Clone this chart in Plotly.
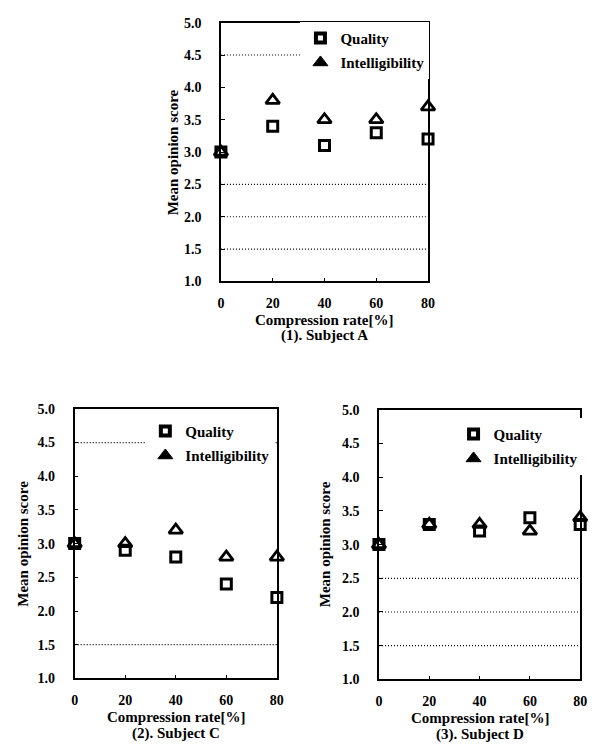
import plotly.graph_objects as go

# ---------------- data ----------------
rates = [0, 20, 40, 60, 80]

quality_A = [3.0, 3.4, 3.1, 3.3, 3.2]
intel_A = [3.0, 3.8, 3.5, 3.5, 3.7]

quality_C = [3.0, 2.9, 2.8, 2.4, 2.2]
intel_C = [3.0, 3.0, 3.2, 2.8, 2.8]

quality_D = [3.0, 3.3, 3.2, 3.4, 3.3]
intel_D = [3.0, 3.3, 3.3, 3.2, 3.4]

y_ticks = [1.0, 1.5, 2.0, 2.5, 3.0, 3.5, 4.0, 4.5, 5.0]
x_ticks = rates

grid_A = [1.5, 2.0, 2.5, 4.5]
grid_C = [1.5, 4.5]
grid_D = [1.5, 2.0, 2.5]

captions = ["(1). Subject A", "(2). Subject C", "(3). Subject D"]
series_names = ["Quality", "Intelligibility"]
x_title = "Compression rate[%]"
y_title = "Mean opinion score"

# ---------------- layout geometry ----------------
W, H = 597, 755
FONT = "Liberation Serif"

panels = [
    dict(sfx="", q=quality_A, i=intel_A, grid=grid_A, cap=captions[0],
         xd=[221 / W, 432 / W], yd=[1 - 280 / H, 1 - 16 / H],
         ytx=-0.23, xty=-0.148, cy=-0.21,
         leg=dict(x=302 / W, y=1 - 15 / H), lname="legend"),
    dict(sfx="2", q=quality_C, i=intel_C, grid=grid_C, cap=captions[1],
         xd=[72 / W, 278 / W], yd=[1 - 685 / H, 1 - 410 / H],
         ytx=-0.255, xty=-0.143, cy=-0.205,
         leg=dict(x=144 / W, y=1 - 416 / H), lname="legend2"),
    dict(sfx="3", q=quality_D, i=intel_D, grid=grid_D, cap=captions[2],
         xd=[382 / W, 587 / W], yd=[1 - 686 / H, 1 - 411 / H],
         ytx=-0.27, xty=-0.143, cy=-0.205,
         leg=dict(x=458 / W, y=1 - 419 / H), lname="legend3"),
]

fig = go.Figure()
layout = dict(
    width=W, height=H, margin=dict(l=0, r=0, t=0, b=0),
    paper_bgcolor="white", plot_bgcolor="white",
    font=dict(family=FONT, color="black", size=14, weight="bold"),
    shapes=[], annotations=[],
)

tickfont = dict(family=FONT, size=14, color="black", weight="bold")

for p in panels:
    xa, ya = "x" + p["sfx"], "y" + p["sfx"]
    # dotted gridlines
    for g in p["grid"]:
        layout["shapes"].append(dict(
            type="line", xref=xa + " domain", yref=ya, x0=0, x1=1, y0=g, y1=g,
            line=dict(color="black", width=1.2, dash="1px,2px"), layer="below"))
    # data traces
    fig.add_trace(go.Scatter(
        x=rates, y=p["q"], mode="markers", xaxis=xa, yaxis=ya, showlegend=False,
        cliponaxis=False, name=series_names[0],
        marker=dict(symbol="square-open", size=10, color="black",
                    line=dict(color="black", width=3))))
    fig.add_trace(go.Scatter(
        x=rates, y=p["i"], mode="markers", xaxis=xa, yaxis=ya, showlegend=False,
        cliponaxis=False, name=series_names[1],
        marker=dict(symbol="triangle-up-open", size=12, color="black",
                    line=dict(color="black", width=2.8))))
    # legend entries
    fig.add_trace(go.Scatter(
        x=[None], y=[None], mode="markers", xaxis=xa, yaxis=ya,
        name=series_names[0], legend=p["lname"], legendgroup="q" + p["sfx"],
        marker=dict(symbol="square-open", size=9, color="black",
                    line=dict(color="black", width=4))))
    fig.add_trace(go.Scatter(
        x=[None], y=[None], mode="markers", xaxis=xa, yaxis=ya,
        name=series_names[1], legend=p["lname"], legendgroup="i" + p["sfx"],
        marker=dict(symbol="triangle-up", size=13, color="black",
                    line=dict(color="black", width=1))))

    axis_common = dict(showline=True, linecolor="black", linewidth=1.5, mirror=True,
                       ticks="inside", ticklen=4, tickwidth=1, tickcolor="black",
                       showgrid=False, zeroline=False, tickfont=tickfont)
    layout["xaxis" + p["sfx"]] = dict(
        axis_common, domain=p["xd"], anchor=ya, range=[0, 80],
        tickvals=x_ticks, ticklabelstandoff=8)
    layout["yaxis" + p["sfx"]] = dict(
        axis_common, domain=p["yd"], anchor=xa, range=[1, 5],
        tickvals=y_ticks, tickformat=".1f", ticklabelstandoff=15)

    layout[p["lname"]] = dict(
        x=p["leg"]["x"], y=p["leg"]["y"], xanchor="left", yanchor="top",
        bgcolor="white", borderwidth=0, traceorder="grouped", tracegroupgap=2,
        itemwidth=30, font=dict(family=FONT, size=15, color="black", weight="bold"))

    # axis titles and caption
    layout["annotations"].append(dict(
        text=y_title, xref=xa + " domain", yref=ya + " domain", x=p["ytx"], y=0.5,
        textangle=-90, showarrow=False, xanchor="center", yanchor="middle",
        font=dict(family=FONT, size=15, color="black", weight="bold")))
    layout["annotations"].append(dict(
        text=x_title, xref=xa + " domain", yref=ya + " domain", x=0.5, y=p["xty"],
        showarrow=False, xanchor="center", yanchor="middle",
        font=dict(family=FONT, size=15, color="black", weight="bold")))
    layout["annotations"].append(dict(
        text=p["cap"], xref=xa + " domain", yref=ya + " domain", x=0.5, y=p["cy"],
        showarrow=False, xanchor="center", yanchor="middle",
        font=dict(family=FONT, size=15, color="black", weight="bold")))

fig.update_layout(**layout)
fig.write_html("out.html")
